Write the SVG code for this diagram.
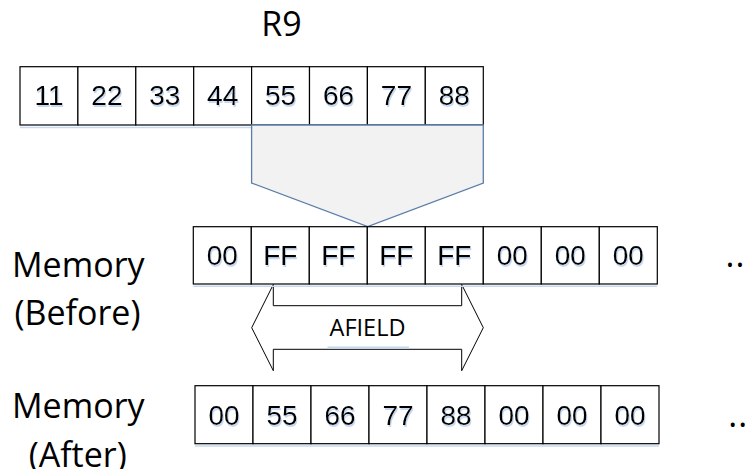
<svg xmlns="http://www.w3.org/2000/svg" width="747" height="469" viewBox="0 0 747 469">
<defs>
<filter id="tshadow" x="-10%" y="-10%" width="130%" height="140%">
  <feDropShadow dx="1" dy="2" stdDeviation="0.2" flood-color="#c6d9f1" flood-opacity="1"/>
</filter>
</defs>
<style>
.cell{fill:#ffffff;stroke:#000000;stroke-width:1.2}
.sh{fill:none;stroke:#c6d9f1;stroke-width:1.5}
.num{font-family:"Liberation Sans",Arial,sans-serif;font-size:28px;fill:#000000;text-anchor:middle;filter:url(#tshadow)}
.lbl{font-family:"Open Sans","Liberation Sans",sans-serif;font-size:34px;fill:#000000;text-anchor:middle}
.af{font-family:"Open Sans","Liberation Sans",sans-serif;font-size:23.5px;fill:#000000;text-anchor:middle}
</style>
<rect width="747" height="469" fill="#ffffff"/>

<g id="label-r9">
  <text class="lbl" x="281.5" y="35.5">R9</text>
</g>

<g id="register-r9">
  <line class="sh" x1="20" y1="127.5" x2="483.3" y2="127.5"/>
  <rect class="cell" x="20" y="66.7" width="57.9" height="58.3"/>
  <rect class="cell" x="77.9" y="66.7" width="57.9" height="58.3"/>
  <rect class="cell" x="135.8" y="66.7" width="57.9" height="58.3"/>
  <rect class="cell" x="193.7" y="66.7" width="57.9" height="58.3"/>
  <rect class="cell" x="251.6" y="66.7" width="57.9" height="58.3"/>
  <rect class="cell" x="309.5" y="66.7" width="57.9" height="58.3"/>
  <rect class="cell" x="367.4" y="66.7" width="57.9" height="58.3"/>
  <rect class="cell" x="425.3" y="66.7" width="58" height="58.3"/>
  <text class="num" x="49" y="105">11</text>
  <text class="num" x="106.9" y="105">22</text>
  <text class="num" x="164.8" y="105">33</text>
  <text class="num" x="222.7" y="105">44</text>
  <text class="num" x="280.6" y="105">55</text>
  <text class="num" x="338.5" y="105">66</text>
  <text class="num" x="396.4" y="105">77</text>
  <text class="num" x="454.3" y="105">88</text>
</g>

<g id="connectors">
  <polygon points="251.6,125 483.3,125 483.3,183 367.7,226.5 251.6,183" fill="#f2f2f2" stroke="#5a7ea8" stroke-width="1.3"/>
  <polygon points="251.7,327.7 273.3,284.5 273.3,305.7 461.7,305.7 461.7,284.5 483.3,327.7 461.7,370.7 461.7,349.3 273.3,349.3 273.3,370.7" fill="#ffffff" stroke="#000000" stroke-width="1"/>
  <line x1="327.5" y1="347.5" x2="409" y2="347.5" stroke="#c6d9f1" stroke-width="1.8"/>
  <text class="af" x="367.5" y="336">AFIELD</text>
</g>

<g id="memory-before">
  <line class="sh" x1="193.3" y1="286.3" x2="657.3" y2="286.3"/>
  <rect class="cell" x="193.3" y="226.7" width="58" height="57.3"/>
  <rect class="cell" x="251.3" y="226.7" width="58" height="57.3"/>
  <rect class="cell" x="309.3" y="226.7" width="58" height="57.3"/>
  <rect class="cell" x="367.3" y="226.7" width="58" height="57.3"/>
  <rect class="cell" x="425.3" y="226.7" width="58" height="57.3"/>
  <rect class="cell" x="483.3" y="226.7" width="58" height="57.3"/>
  <rect class="cell" x="541.3" y="226.7" width="58" height="57.3"/>
  <rect class="cell" x="599.3" y="226.7" width="58" height="57.3"/>
  <text class="num" x="222.3" y="265.3">00</text>
  <text class="num" x="280.3" y="265.3">FF</text>
  <text class="num" x="338.3" y="265.3">FF</text>
  <text class="num" x="396.3" y="265.3">FF</text>
  <text class="num" x="454.3" y="265.3">FF</text>
  <text class="num" x="512.3" y="265.3">00</text>
  <text class="num" x="570.3" y="265.3">00</text>
  <text class="num" x="628.3" y="265.3">00</text>
  <text class="lbl" x="725.6" y="266.5" style="text-anchor:start;letter-spacing:1px">..</text>
</g>

<g id="memory-after">
  <line class="sh" x1="195" y1="446" x2="659" y2="446"/>
  <rect class="cell" x="195" y="385.7" width="58" height="58"/>
  <rect class="cell" x="253" y="385.7" width="58" height="58"/>
  <rect class="cell" x="311" y="385.7" width="58" height="58"/>
  <rect class="cell" x="369" y="385.7" width="58" height="58"/>
  <rect class="cell" x="427" y="385.7" width="58" height="58"/>
  <rect class="cell" x="485" y="385.7" width="58" height="58"/>
  <rect class="cell" x="543" y="385.7" width="58" height="58"/>
  <rect class="cell" x="601" y="385.7" width="58" height="58"/>
  <text class="num" x="224" y="424.5">00</text>
  <text class="num" x="282" y="424.5">55</text>
  <text class="num" x="340" y="424.5">66</text>
  <text class="num" x="398" y="424.5">77</text>
  <text class="num" x="456" y="424.5">88</text>
  <text class="num" x="514" y="424.5">00</text>
  <text class="num" x="572" y="424.5">00</text>
  <text class="num" x="630" y="424.5">00</text>
  <text class="lbl" x="728.3" y="426.7" style="text-anchor:start;letter-spacing:1px">..</text>
</g>

<g id="label-before">
  <text class="lbl" x="78.3" y="276.5">Memory</text>
  <text class="lbl" x="77.5" y="325">(Before)</text>
</g>

<g id="label-after">
  <text class="lbl" x="78.3" y="418.3">Memory</text>
  <text class="lbl" x="77.7" y="466.5">(After)</text>
</g>
</svg>
